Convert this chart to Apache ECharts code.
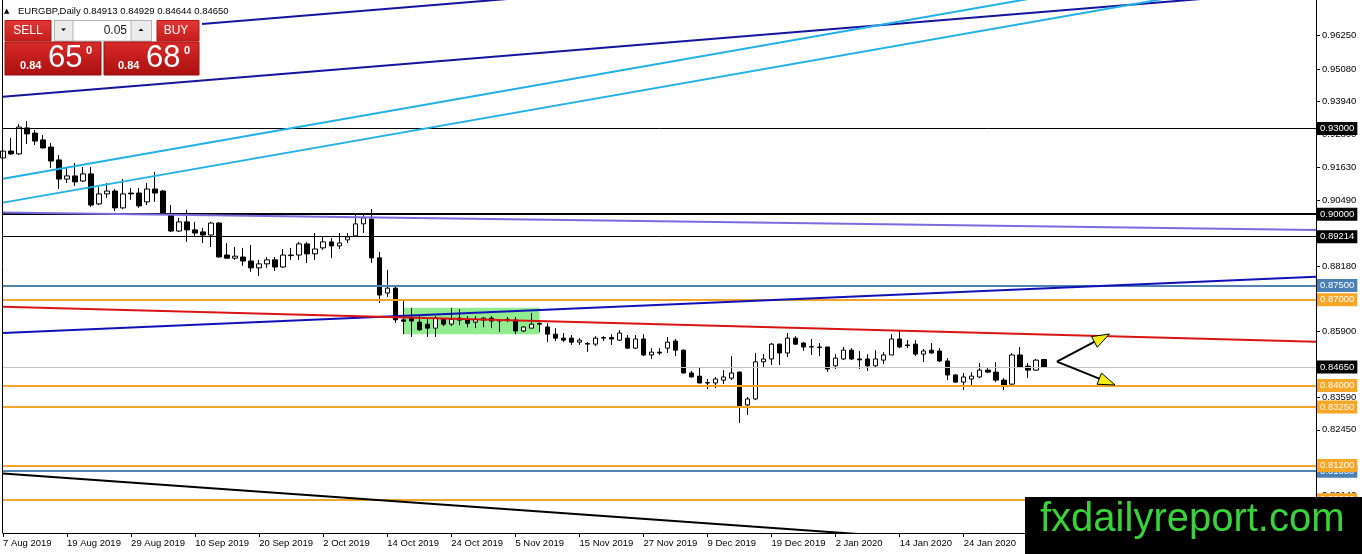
<!DOCTYPE html>
<html>
<head>
<meta charset="utf-8">
<script src="https://cdn.jsdelivr.net/npm/echarts@6/dist/echarts.min.js"></script>
<style>
  html, body { margin: 0; padding: 0; background: #fff; }
  #chart { width: 1362px; height: 554px; }
</style>
</head>
<body>
<div id="chart"></div>
<script>
// trading days shown on the chart (weekends / holidays skipped like the terminal does)
var tradingDays = [
    ['Aug', 2019, [7, 8, 9, 12, 13, 14, 15, 16, 19, 20, 21, 22, 23, 26, 27, 28, 29, 30]],
    ['Sep', 2019, [2, 3, 4, 5, 6, 9, 10, 11, 12, 13, 16, 17, 18, 19, 20, 23, 24, 25, 26, 27, 30]],
    ['Oct', 2019, [1, 2, 3, 4, 7, 8, 9, 10, 11, 14, 15, 16, 17, 18, 21, 22, 23, 24, 25, 28, 29, 30, 31]],
    ['Nov', 2019, [1, 4, 5, 6, 7, 8, 11, 12, 13, 14, 15, 18, 19, 20, 21, 22, 25, 26, 27, 28, 29]],
    ['Dec', 2019, [2, 3, 4, 5, 6, 9, 10, 11, 12, 13, 16, 17, 18, 19, 20, 23, 24, 26, 27, 30, 31]],
    ['Jan', 2020, [2, 3, 6, 7, 8, 9, 10, 13, 14, 15, 16, 17, 20, 21, 22, 23, 24, 27, 28, 29, 30, 31]],
    ['Feb', 2020, [3, 4, 5, 6, 7]]
];
var emptySlots = 34;   // free space on the right of the last bar

var opens = [
    0.9197, 0.9221, 0.9211, 0.9302, 0.9284, 0.9260, 0.9235, 0.9190, 0.9123, 0.9134,
    0.9116, 0.9141, 0.9036, 0.9071, 0.9081, 0.9022, 0.9074, 0.9074, 0.9043, 0.9088,
    0.9081, 0.8997, 0.8941, 0.8973, 0.8945, 0.8938, 0.8927, 0.8969, 0.8857, 0.8846,
    0.8850, 0.8836, 0.8812, 0.8826, 0.8840, 0.8815, 0.8855, 0.8857, 0.8896, 0.8861,
    0.8882, 0.8903, 0.8889, 0.8910, 0.8924, 0.8966, 0.8983, 0.8847, 0.8724, 0.8741,
    0.8630, 0.8636, 0.8622, 0.8615, 0.8601, 0.8632, 0.8615, 0.8636, 0.8632, 0.8622,
    0.8629, 0.8636, 0.8629, 0.8632, 0.8629, 0.8591, 0.8601, 0.8618, 0.8605, 0.8580,
    0.8566, 0.8566, 0.8552, 0.8545, 0.8545, 0.8566, 0.8568, 0.8559, 0.8566, 0.8531,
    0.8563, 0.8507, 0.8517, 0.8531, 0.8556, 0.8524, 0.8444, 0.8433, 0.8410, 0.8409,
    0.8419, 0.8426, 0.8447, 0.8332, 0.8353, 0.8483, 0.8493, 0.8545, 0.8514, 0.8566,
    0.8549, 0.8536, 0.8535, 0.8535, 0.8469, 0.8493, 0.8524, 0.8493, 0.8493, 0.8469,
    0.8489, 0.8507, 0.8563, 0.8542, 0.8545, 0.8510, 0.8524, 0.8521, 0.8486, 0.8437,
    0.8412, 0.8423, 0.8430, 0.8454, 0.8447, 0.8419, 0.8405, 0.8507, 0.8468, 0.8454,
    0.84913
];
var highs = [
    0.9246, 0.9267, 0.9316, 0.9326, 0.9295, 0.9277, 0.9249, 0.9207, 0.9162, 0.9179,
    0.9165, 0.9165, 0.9095, 0.9109, 0.9088, 0.9123, 0.9092, 0.9092, 0.9109, 0.9148,
    0.9085, 0.9032, 0.8987, 0.9015, 0.8973, 0.8952, 0.8973, 0.8972, 0.8899, 0.8885,
    0.8882, 0.8892, 0.8840, 0.8850, 0.8850, 0.8878, 0.8882, 0.8903, 0.8903, 0.8934,
    0.8920, 0.8917, 0.8934, 0.8934, 0.8997, 0.9004, 0.9018, 0.8868, 0.8805, 0.8745,
    0.8702, 0.8672, 0.8647, 0.8636, 0.8643, 0.8636, 0.8672, 0.8668, 0.8643, 0.8643,
    0.8640, 0.8643, 0.8632, 0.8640, 0.8640, 0.8608, 0.8654, 0.8620, 0.8619, 0.8601,
    0.8584, 0.8577, 0.8566, 0.8552, 0.8573, 0.8573, 0.8580, 0.8594, 0.8577, 0.8577,
    0.8580, 0.8531, 0.8531, 0.8570, 0.8563, 0.8526, 0.8451, 0.8465, 0.8423, 0.8430,
    0.8454, 0.8503, 0.8449, 0.8360, 0.8514, 0.8510, 0.8549, 0.8547, 0.8584, 0.8573,
    0.8552, 0.8563, 0.8549, 0.8535, 0.8510, 0.8535, 0.8531, 0.8521, 0.8510, 0.8524,
    0.8517, 0.8580, 0.8591, 0.8559, 0.8559, 0.8528, 0.8549, 0.8531, 0.8496, 0.8440,
    0.8444, 0.8447, 0.8479, 0.8461, 0.8482, 0.8426, 0.8514, 0.8535, 0.8479, 0.8493,
    0.84929
];
var lows = [
    0.9190, 0.9208, 0.9208, 0.9246, 0.9242, 0.9230, 0.9162, 0.9088, 0.9109, 0.9099,
    0.9113, 0.9025, 0.9032, 0.9057, 0.9011, 0.9018, 0.9050, 0.9022, 0.9032, 0.9043,
    0.8997, 0.8938, 0.8938, 0.8903, 0.8920, 0.8899, 0.8885, 0.8848, 0.8845, 0.8840,
    0.8819, 0.8798, 0.8784, 0.8812, 0.8801, 0.8812, 0.8840, 0.8840, 0.8829, 0.8840,
    0.8875, 0.8846, 0.8878, 0.8899, 0.8920, 0.8934, 0.8829, 0.8689, 0.8710, 0.8619,
    0.8580, 0.8570, 0.8591, 0.8570, 0.8570, 0.8608, 0.8608, 0.8611, 0.8604, 0.8601,
    0.8604, 0.8601, 0.8587, 0.8622, 0.8580, 0.8587, 0.8601, 0.8587, 0.8552, 0.8556,
    0.8552, 0.8542, 0.8542, 0.8518, 0.8538, 0.8556, 0.8542, 0.8556, 0.8528, 0.8528,
    0.8503, 0.8493, 0.8507, 0.8514, 0.8503, 0.8443, 0.8429, 0.8408, 0.8388, 0.8391,
    0.8405, 0.8419, 0.8269, 0.8297, 0.8349, 0.8465, 0.8472, 0.8472, 0.8500, 0.8542,
    0.8521, 0.8507, 0.8503, 0.8448, 0.8458, 0.8489, 0.8489, 0.8458, 0.8451, 0.8465,
    0.8475, 0.8507, 0.8531, 0.8531, 0.8503, 0.8482, 0.8512, 0.8482, 0.8419, 0.8409,
    0.8384, 0.8402, 0.8426, 0.8444, 0.8412, 0.8384, 0.8402, 0.8461, 0.8426, 0.8452,
    0.84644
];
var closes = [
    0.9221, 0.9211, 0.9305, 0.9281, 0.9256, 0.9232, 0.9186, 0.9123, 0.9134, 0.9113,
    0.9141, 0.9032, 0.9071, 0.9081, 0.9022, 0.9071, 0.9071, 0.9029, 0.9088, 0.9074,
    0.9001, 0.8941, 0.8973, 0.8945, 0.8934, 0.8927, 0.8969, 0.8850, 0.8846, 0.8853,
    0.8836, 0.8812, 0.8826, 0.8840, 0.8815, 0.8857, 0.8857, 0.8896, 0.8861, 0.8878,
    0.8903, 0.8889, 0.8899, 0.8920, 0.8966, 0.8987, 0.8847, 0.8717, 0.8741, 0.8630,
    0.8625, 0.8626, 0.8595, 0.8601, 0.8636, 0.8615, 0.8632, 0.8629, 0.8618, 0.8632,
    0.8636, 0.8626, 0.8626, 0.8629, 0.8591, 0.8605, 0.8615, 0.8615, 0.8580, 0.8566,
    0.8559, 0.8552, 0.8559, 0.8547, 0.8566, 0.8568, 0.8563, 0.8584, 0.8531, 0.8563,
    0.8507, 0.8517, 0.8514, 0.8552, 0.8524, 0.8444, 0.8430, 0.8409, 0.8409, 0.8423,
    0.8430, 0.8444, 0.8325, 0.8353, 0.8483, 0.8493, 0.8545, 0.8514, 0.8566, 0.8545,
    0.8535, 0.8535, 0.8533, 0.8458, 0.8496, 0.8524, 0.8493, 0.8490, 0.8469, 0.8493,
    0.8507, 0.8563, 0.8535, 0.8540, 0.8510, 0.8521, 0.8514, 0.8486, 0.8437, 0.8412,
    0.8430, 0.8433, 0.8454, 0.8447, 0.8419, 0.8398, 0.8507, 0.8465, 0.8454, 0.8489,
    0.84650
];

// price scale ticks printed on the right
var yTicks = [0.9625, 0.9508, 0.9394, 0.9280, 0.9163, 0.9049, 0.8818, 0.8590, 0.8359, 0.8245, 0.8014];
var Y_MIN = 0.78837, Y_MAX = 0.97499;

// horizontal levels with their price tags
var levelPrices = [0.93, 0.90, 0.89214, 0.875, 0.87, 0.8465, 0.84, 0.8325, 0.81, 0.812, 0.80];
var levelKinds  = ['thin', 'bold', 'thin', 'blue', 'orange', 'bid', 'orange', 'orange', 'blue', 'orange', 'orange'];

// trend lines: [barFrom, priceFrom, barTo, priceTo]
var trendNames = ['navyTop', 'navyLow', 'skyTop', 'skyLow', 'purple', 'blueRise', 'red', 'blackFall'];
var trendPoints = [
    [0, 0.96092, 70, 0.97694],
    [0, 0.94109, 160, 0.97771],
    [0, 0.91244, 140, 0.98121],
    [0, 0.90404, 150, 0.97785],
    [0, 0.90059, 164, 0.89446],
    [0, 0.85836, 164, 0.87807],
    [0, 0.86761, 164, 0.85535],
    [0, 0.80924, 120, 0.78539]
];

// consolidation box and the two projection arrows
var zoneBox = [50.05, 0.86725, 67.02, 0.85794];
var arrows = [
    [131.64, 0.84835, 138.2, 0.85805],
    [131.64, 0.84835, 138.9, 0.84019]
];

var FONT = 'Liberation Sans';

var categories = [];
tradingDays.forEach(function (m) {
    m[2].forEach(function (d) { categories.push(d + ' ' + m[0] + ' ' + m[1]); });
});
for (var k = 0; k < emptySlots; k++) categories.push('');

var candles = opens.map(function (o, i) { return [o, closes[i], lows[i], highs[i]]; });

var levelStyle = {
    thin:   { line: '#000000', width: 1, tag: '#000000' },
    bold:   { line: '#000000', width: 2, tag: '#000000' },
    blue:   { line: '#5082B2', width: 2, tag: '#4A80B4' },
    orange: { line: '#F2A52A', width: 2, tag: '#F7A626' },
    bid:    { line: '#C4C4C4', width: 1, tag: '#000000' }
};
var trendStyle = {
    navyTop:   { color: '#14149E', width: 2 },
    navyLow:   { color: '#14149E', width: 2 },
    skyTop:    { color: '#22B0E8', width: 2 },
    skyLow:    { color: '#22B0E8', width: 2 },
    purple:    { color: '#7A6AE0', width: 2 },
    blueRise:  { color: '#1010B8', width: 2 },
    red:       { color: '#DA1414', width: 2 },
    blackFall: { color: '#000000', width: 2 }
};

var myChart = echarts.init(document.getElementById('chart'));

var series = [];

// green consolidation rectangle, behind the candles
series.push({
    type: 'custom',
    xAxisIndex: 1,
    silent: true,
    z: 1,
    data: [zoneBox],
    encode: { x: [0, 2], y: [1, 3] },
    renderItem: function (params, api) {
        var a = api.coord([api.value(0), api.value(1)]);
        var b = api.coord([api.value(2), api.value(3)]);
        return {
            type: 'rect',
            shape: { x: Math.min(a[0], b[0]), y: Math.min(a[1], b[1]),
                     width: Math.abs(b[0] - a[0]), height: Math.abs(b[1] - a[1]) },
            style: { fill: '#90EC8E' }
        };
    }
});

series.push({
    type: 'candlestick',
    xAxisIndex: 0,
    z: 3,
    barWidth: 5,
    silent: true,
    data: candles,
    itemStyle: {
        color: '#ffffff', color0: '#000000',
        borderColor: '#000000', borderColor0: '#000000', borderColorDoji: '#000000',
        borderWidth: 1
    }
});

trendNames.forEach(function (name, i) {
    var p = trendPoints[i];
    series.push({
        type: 'line',
        xAxisIndex: 1,
        z: 5,
        silent: true,
        clip: true,
        symbol: 'none',
        data: [[p[0], p[1]], [p[2], p[3]]],
        lineStyle: { color: trendStyle[name].color, width: trendStyle[name].width }
    });
});

// horizontal levels + price tags on the scale
series.push({
    type: 'line',
    xAxisIndex: 0,
    z: 6,
    data: [],
    markLine: {
        silent: true,
        animation: false,
        precision: 5,
        symbol: ['none', 'none'],
        data: levelPrices.map(function (v, i) {
            var s = levelStyle[levelKinds[i]];
            return {
                yAxis: v,
                lineStyle: { color: s.line, width: s.width, type: 'solid' },
                label: {
                    show: true,
                    position: 'end',
                    distance: 1,
                    formatter: v.toFixed(5),
                    color: '#ffffff',
                    backgroundColor: s.tag,
                    padding: [2, 3, 1, 3],
                    fontSize: 9.5,
                    fontFamily: FONT
                }
            };
        })
    }
});

series.push({
    type: 'custom',
    xAxisIndex: 1,
    silent: true,
    z: 8,
    data: arrows,
    encode: { x: [0, 2], y: [1, 3] },
    renderItem: function (params, api) {
        var v = api.coord([api.value(0), api.value(1)]);
        var t = api.coord([api.value(2), api.value(3)]);
        var dx = t[0] - v[0], dy = t[1] - v[1];
        var len = Math.sqrt(dx * dx + dy * dy);
        var ux = dx / len, uy = dy / len;
        var hl = 17, hw = 6;
        var bx = t[0] - ux * hl, by = t[1] - uy * hl;
        return {
            type: 'group',
            children: [
                { type: 'line', shape: { x1: v[0], y1: v[1], x2: bx + ux * 2, y2: by + uy * 2 },
                  style: { stroke: '#000', lineWidth: 2 } },
                { type: 'polygon',
                  shape: { points: [[t[0], t[1]], [bx - uy * hw, by + ux * hw], [bx + uy * hw, by - ux * hw]] },
                  style: { fill: '#F4EE14', stroke: '#000', lineWidth: 1 } }
            ]
        };
    }
});

var redFill = new echarts.graphic.LinearGradient(0, 0, 0, 1, [
    { offset: 0, color: '#DA2A2A' }, { offset: 1, color: '#A90F0F' }
]);
var btnFill = new echarts.graphic.LinearGradient(0, 0, 0, 1, [
    { offset: 0, color: '#E23838' }, { offset: 1, color: '#C41C1C' }
]);

function txt(x, y, s, size, opts) {
    opts = opts || {};
    return {
        type: 'text', z: 101, silent: true,
        style: {
            x: x, y: y, text: s,
            font: (opts.bold ? 'bold ' : '') + size + 'px "' + (opts.family || FONT) + '"',
            fill: opts.color || '#ffffff',
            textAlign: opts.align || 'left',
            textVerticalAlign: 'middle'
        }
    };
}

var graphic = [
    // header line
    txt(4, 11, '\u25B2', 7, { color: '#000', family: 'DejaVu Sans' }),
    txt(18, 11, 'EURGBP,Daily 0.84913 0.84929 0.84644 0.84650', 9.5, { color: '#000' }),
    // one-click trade panel
    { type: 'rect', z: 100, silent: true, shape: { x: 3, y: 18, width: 199, height: 60 }, style: { fill: '#ffffff' } },
    { type: 'rect', z: 100, silent: true, shape: { x: 5, y: 20.5, width: 46, height: 20.5 }, style: { fill: btnFill, stroke: '#B51717', lineWidth: 1 } },
    txt(28, 31, 'SELL', 12, { align: 'center' }),
    { type: 'rect', z: 100, silent: true, shape: { x: 54.5, y: 20.5, width: 97, height: 20.5 }, style: { fill: '#ffffff', stroke: '#B4B4B4', lineWidth: 1 } },
    { type: 'rect', z: 100, silent: true, shape: { x: 54.5, y: 20.5, width: 18.5, height: 20.5 }, style: { fill: '#ECECEC', stroke: '#B4B4B4', lineWidth: 1 } },
    { type: 'rect', z: 100, silent: true, shape: { x: 131, y: 20.5, width: 20.5, height: 20.5 }, style: { fill: '#ECECEC', stroke: '#B4B4B4', lineWidth: 1 } },
    { type: 'polygon', z: 101, silent: true, shape: { points: [[61, 28.5], [66, 28.5], [63.5, 31]] }, style: { fill: '#000' } },
    { type: 'polygon', z: 101, silent: true, shape: { points: [[138.5, 31], [143.5, 31], [141, 28.5]] }, style: { fill: '#000' } },
    txt(127, 30.5, '0.05', 12, { color: '#1a1a1a', align: 'right' }),
    { type: 'rect', z: 100, silent: true, shape: { x: 157, y: 20.5, width: 42, height: 20.5 }, style: { fill: btnFill, stroke: '#B51717', lineWidth: 1 } },
    txt(176, 31, 'BUY', 12, { align: 'center' }),
    { type: 'rect', z: 100, silent: true, shape: { x: 5, y: 42, width: 96, height: 33 }, style: { fill: redFill, stroke: '#9A0C0C', lineWidth: 1 } },
    { type: 'rect', z: 100, silent: true, shape: { x: 104, y: 42, width: 95, height: 33 }, style: { fill: redFill, stroke: '#9A0C0C', lineWidth: 1 } },
    txt(20, 66, '0.84', 11, { bold: true }),
    txt(48, 58, '65', 31),
    txt(86, 51, '0', 11, { bold: true }),
    txt(118, 66, '0.84', 11, { bold: true }),
    txt(146, 58, '68', 31),
    txt(184, 51, '0', 11, { bold: true }),
    // left frame of the chart window
    { type: 'line', z: 4, silent: true, shape: { x1: 2.5, y1: 0, x2: 2.5, y2: 533 }, style: { stroke: '#000', lineWidth: 1 } },
    // site watermark
    { type: 'rect', z: 100, silent: true, shape: { x: 1025, y: 497, width: 337, height: 57 }, style: { fill: '#000000' } },
    txt(1040, 520, 'fxdailyreport.com', 40, { color: '#3AD23A' })
];

var option = {
    animation: false,
    backgroundColor: '#ffffff',
    textStyle: { fontFamily: FONT },
    grid: { left: 3, right: 46, top: 0, bottom: 21, containLabel: false, outerBoundsMode: 'none' },
    xAxis: [
        {
            type: 'category',
            data: categories,
            boundaryGap: false,
            axisLine: { onZero: false, lineStyle: { color: '#000', width: 1 } },
            axisTick: { interval: 7, length: 4, lineStyle: { color: '#000' } },
            axisLabel: { interval: 7, align: 'left', margin: 5, color: '#000', fontSize: 9.5, fontFamily: FONT },
            splitLine: { show: false }
        },
        { type: 'value', min: 0, max: categories.length - 1, show: false, axisLine: { onZero: false } }
    ],
    yAxis: {
        type: 'value',
        position: 'right',
        min: Y_MIN,
        max: Y_MAX,
        axisLine: { show: true, onZero: false, lineStyle: { color: '#000', width: 1 } },
        axisTick: { show: true, length: 4, customValues: yTicks, lineStyle: { color: '#000' } },
        axisLabel: {
            customValues: yTicks,
            formatter: function (v) { return v.toFixed(5); },
            color: '#000', fontSize: 9.5, margin: 6, fontFamily: FONT
        },
        splitLine: { show: false }
    },
    graphic: graphic,
    series: series
};

myChart.setOption(option);
</script>
</body>
</html>
